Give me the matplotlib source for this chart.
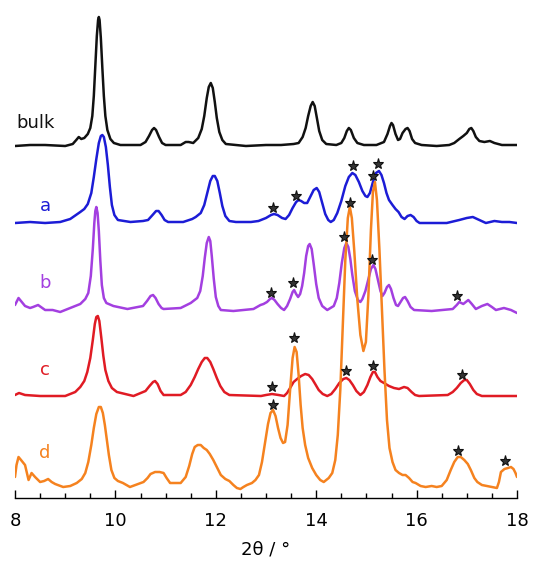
import numpy as np
import matplotlib
matplotlib.use('Agg')
import matplotlib.pyplot as plt

# traced patterns: (2theta, intensity above own baseline), arbitrary units
bulk = [(8.0, 0), (8.3, 1), (8.6, 1), (9.0, 0), (9.15, 2), (9.22, 6), (9.27, 9), (9.32, 7),
        (9.38, 8), (9.45, 12), (9.50, 18), (9.54, 30), (9.57, 50), (9.60, 80), (9.63, 110),
        (9.655, 126), (9.67, 129), (9.685, 126), (9.71, 108), (9.74, 78), (9.77, 50), (9.80, 30),
        (9.84, 16), (9.90, 7), (9.97, 3), (10.1, 1), (10.5, 1), (10.6, 4), (10.67, 10),
        (10.73, 16), (10.77, 18), (10.81, 16), (10.87, 9), (10.93, 3), (11.0, 1), (11.3, 1),
        (11.40, 4), (11.46, 4), (11.55, 3), (11.65, 8), (11.72, 17), (11.77, 30), (11.82, 48),
        (11.86, 59), (11.90, 63), (11.94, 58), (11.98, 44), (12.02, 28), (12.07, 14), (12.13, 6),
        (12.2, 2), (12.6, 0), (13.0, 1), (13.3, 1), (13.55, 2), (13.65, 3), (13.73, 9),
        (13.79, 18), (13.84, 30), (13.89, 40), (13.93, 44), (13.97, 40), (14.01, 29), (14.06, 15),
        (14.12, 6), (14.2, 2), (14.4, 1), (14.5, 3), (14.56, 8), (14.61, 15), (14.65, 18),
        (14.69, 16), (14.75, 8), (14.82, 3), (14.95, 1), (15.2, 1), (15.35, 4), (15.42, 12),
        (15.47, 20), (15.50, 23), (15.53, 21), (15.58, 12), (15.63, 6), (15.67, 7), (15.72, 13),
        (15.78, 17), (15.82, 18), (15.86, 15), (15.91, 7), (15.97, 3), (16.1, 1), (16.4, 0),
        (16.65, 1), (16.75, 3), (16.85, 7), (16.93, 10), (17.0, 13), (17.05, 17), (17.09, 18),
        (17.13, 15), (17.18, 9), (17.25, 5), (17.35, 4), (17.46, 5), (17.55, 3), (17.7, 1),
        (17.85, 1), (18.0, 1)]

a = [(8.0, 0), (8.3, 1), (8.6, 0), (8.9, 1), (9.1, 4), (9.3, 11), (9.38, 14), (9.45, 19),
     (9.52, 30), (9.57, 46), (9.62, 64), (9.67, 80), (9.71, 87), (9.74, 88), (9.77, 86),
     (9.81, 76), (9.85, 58), (9.89, 36), (9.93, 18), (9.98, 8), (10.05, 3), (10.3, 1),
     (10.55, 2), (10.65, 3), (10.74, 8), (10.81, 12), (10.86, 12), (10.92, 8), (10.98, 3),
     (11.05, 1), (11.35, 1), (11.53, 4), (11.6, 6), (11.7, 10), (11.77, 18), (11.83, 30),
     (11.89, 42), (11.94, 47), (11.98, 47), (12.03, 42), (12.08, 30), (12.13, 17), (12.19, 7),
     (12.27, 2), (12.4, 1), (12.7, 1), (12.85, 2), (13.0, 5), (13.1, 8), (13.16, 9), (13.23, 8),
     (13.32, 5), (13.39, 4), (13.46, 8), (13.53, 15), (13.6, 21), (13.65, 23), (13.70, 22),
     (13.76, 20), (13.82, 20), (13.88, 26), (13.95, 33), (14.01, 35), (14.06, 31), (14.12, 20),
     (14.18, 9), (14.24, 3), (14.29, 1), (14.35, 3), (14.42, 10), (14.5, 22), (14.58, 37),
     (14.65, 46), (14.72, 50), (14.78, 48), (14.85, 41), (14.92, 32), (14.98, 27), (15.02, 26),
     (15.07, 30), (15.13, 41), (15.19, 50), (15.25, 52), (15.30, 48), (15.35, 40), (15.40, 30),
     (15.45, 23), (15.52, 18), (15.58, 14), (15.64, 11), (15.70, 6), (15.76, 4), (15.82, 7),
     (15.88, 8), (15.94, 6), (16.0, 2), (16.06, 0), (16.2, 0), (16.6, 0), (16.85, 3),
     (17.0, 5), (17.12, 6), (17.25, 3), (17.38, 0), (17.55, 2), (17.7, 1), (17.85, 1),
     (18.0, 0)]

b = [(8.0, 6), (8.07, 13), (8.2, 5), (8.3, 3), (8.36, 4), (8.46, 6), (8.6, 1), (8.75, 1),
     (8.9, -1), (9.1, 3), (9.3, 7), (9.40, 12), (9.46, 18), (9.51, 35), (9.55, 62), (9.58, 88),
     (9.60, 100), (9.62, 104), (9.645, 98), (9.67, 80), (9.70, 50), (9.73, 26), (9.77, 13),
     (9.82, 8), (9.96, 5), (10.24, 2), (10.45, 4), (10.55, 5), (10.63, 10), (10.70, 15),
     (10.75, 16), (10.80, 13), (10.86, 7), (10.92, 3), (10.96, 2), (11.3, 3), (11.5, 8),
     (11.63, 13), (11.69, 20), (11.74, 35), (11.78, 53), (11.82, 68), (11.86, 74), (11.89, 70),
     (11.92, 55), (11.96, 32), (12.0, 14), (12.05, 5), (12.1, 1), (12.35, 0), (12.75, 2),
     (12.89, 6), (12.95, 7), (13.02, 9), (13.08, 12), (13.12, 13), (13.17, 11), (13.23, 7),
     (13.30, 3), (13.36, 1), (13.42, 5), (13.48, 12), (13.53, 19), (13.56, 21), (13.60, 17),
     (13.64, 14), (13.68, 17), (13.72, 25), (13.76, 38), (13.80, 55), (13.84, 65), (13.87, 67),
     (13.91, 62), (13.95, 47), (14.0, 27), (14.05, 13), (14.12, 5), (14.22, 1), (14.35, 5),
     (14.41, 13), (14.46, 28), (14.51, 48), (14.56, 63), (14.60, 68), (14.64, 64), (14.68, 52),
     (14.72, 36), (14.77, 20), (14.83, 11), (14.88, 9), (14.92, 12), (14.98, 20), (15.04, 32),
     (15.09, 42), (15.14, 46), (15.18, 42), (15.23, 31), (15.28, 20), (15.32, 15), (15.36, 18),
     (15.41, 24), (15.45, 26), (15.49, 22), (15.54, 13), (15.59, 6), (15.63, 5), (15.68, 9),
     (15.73, 13), (15.77, 14), (15.82, 10), (15.88, 4), (15.95, 1), (16.3, 0), (16.72, 2),
     (16.8, 6), (16.85, 9), (16.93, 7), (16.98, 9), (17.03, 11), (17.1, 7), (17.18, 2),
     (17.30, 5), (17.41, 7), (17.5, 4), (17.58, 1), (17.74, 3), (17.88, 1), (18.0, -2)]

c = [(8.0, 1), (8.08, 3), (8.2, 1), (8.5, 0), (9.0, 0), (9.2, 4), (9.3, 9), (9.38, 15),
     (9.44, 24), (9.50, 38), (9.55, 56), (9.59, 72), (9.62, 79), (9.65, 80), (9.68, 75),
     (9.72, 58), (9.76, 40), (9.80, 26), (9.86, 15), (9.93, 8), (10.03, 4), (10.36, 0),
     (10.6, 5), (10.68, 10), (10.75, 14), (10.79, 15), (10.84, 12), (10.9, 5), (10.96, 1),
     (11.3, 1), (11.4, 4), (11.5, 11), (11.58, 19), (11.65, 27), (11.72, 34), (11.78, 38),
     (11.83, 38), (11.89, 34), (11.95, 27), (12.02, 18), (12.09, 10), (12.17, 4), (12.27, 1),
     (12.9, 0), (13.0, 1), (13.12, 2), (13.25, 1), (13.36, 0), (13.42, 3), (13.48, 8),
     (13.55, 14), (13.62, 17), (13.70, 20), (13.78, 22), (13.85, 21), (13.92, 17), (13.98, 12),
     (14.05, 6), (14.13, 2), (14.22, 0), (14.30, 2), (14.38, 7), (14.46, 13), (14.54, 17),
     (14.60, 18), (14.66, 16), (14.73, 11), (14.80, 5), (14.88, 1), (14.95, 4), (15.02, 11),
     (15.08, 19), (15.13, 24), (15.17, 24), (15.22, 19), (15.28, 15), (15.35, 13), (15.45, 10),
     (15.55, 8), (15.65, 7), (15.75, 9), (15.82, 8), (15.9, 4), (15.97, 1), (16.05, 0),
     (16.62, 1), (16.72, 4), (16.8, 8), (16.88, 13), (16.95, 16), (17.0, 16), (17.06, 12),
     (17.13, 6), (17.2, 2), (17.3, 0), (17.5, 0), (18.0, 0)]

d = [(8.0, 13), (8.03, 25), (8.07, 33), (8.12, 30), (8.2, 25), (8.27, 10), (8.33, 17),
     (8.4, 13), (8.5, 8), (8.58, 9), (8.66, 11), (8.73, 8), (8.8, 6), (8.96, 3), (9.1, 4),
     (9.23, 7), (9.33, 11), (9.40, 17), (9.46, 28), (9.52, 45), (9.57, 62), (9.62, 76),
     (9.67, 83), (9.71, 83), (9.75, 77), (9.79, 65), (9.83, 50), (9.87, 35), (9.92, 20),
     (9.98, 12), (10.05, 9), (10.15, 7), (10.29, 3), (10.45, 6), (10.56, 8), (10.64, 12),
     (10.70, 16), (10.79, 18), (10.88, 18), (10.96, 17), (11.02, 12), (11.09, 7), (11.3, 7),
     (11.4, 13), (11.47, 24), (11.53, 36), (11.58, 43), (11.64, 45), (11.70, 45), (11.76, 42),
     (11.82, 40), (11.88, 36), (11.95, 30), (12.02, 23), (12.1, 15), (12.19, 11), (12.27, 9),
     (12.35, 5), (12.42, 2), (12.49, 1), (12.55, 3), (12.62, 5), (12.72, 7), (12.79, 10),
     (12.86, 15), (12.92, 28), (12.98, 47), (13.04, 66), (13.09, 77), (13.14, 80), (13.19, 74),
     (13.24, 62), (13.29, 52), (13.34, 47), (13.38, 48), (13.43, 65), (13.48, 100),
     (13.53, 132), (13.57, 143), (13.61, 138), (13.65, 115), (13.69, 85), (13.73, 62),
     (13.78, 45), (13.84, 32), (13.92, 22), (14.0, 15), (14.08, 10), (14.15, 8), (14.25, 12),
     (14.32, 17), (14.38, 30), (14.43, 55), (14.48, 100), (14.53, 165), (14.58, 230),
     (14.63, 272), (14.67, 283), (14.71, 272), (14.76, 238), (14.82, 190), (14.88, 155),
     (14.94, 139), (14.99, 148), (15.04, 195), (15.09, 260), (15.13, 298), (15.17, 308),
     (15.21, 290), (15.26, 240), (15.31, 180), (15.36, 120), (15.41, 70), (15.46, 42),
     (15.52, 28), (15.58, 20), (15.65, 17), (15.72, 15), (15.78, 15), (15.85, 12), (15.92, 8),
     (15.98, 7), (16.08, 4), (16.18, 3), (16.3, 4), (16.4, 3), (16.5, 4), (16.6, 10),
     (16.68, 20), (16.75, 28), (16.82, 33), (16.88, 33), (16.95, 30), (17.02, 26), (17.08, 20),
     (17.15, 12), (17.21, 8), (17.3, 5), (17.4, 4), (17.51, 3), (17.6, 2), (17.64, 8),
     (17.68, 18), (17.75, 21), (17.82, 22), (17.88, 23), (17.93, 21), (17.97, 17), (18.0, 13)]

# starred reflections: (2theta, height above own baseline)
stars_a = [(13.14, 13), (13.59, 25), (14.74, 55), (15.23, 57)]
stars_b = [(13.10, 16), (13.53, 26), (14.55, 72), (15.12, 49), (16.80, 13)]
stars_c = [(13.12, 7), (14.60, 23), (15.14, 28), (16.91, 19)]
stars_d = [(13.14, 83), (13.55, 150), (14.67, 285), (15.14, 312), (16.82, 37), (17.77, 27)]

names = ['bulk', 'a', 'b', 'c', 'd']
offsets = [352, 275, 187, 102, 8]
colors = ['#111111', '#1c1cd6', '#a33fe0', '#e01b24', '#f5821f']

fig = plt.figure(figsize=(5.34, 5.61), dpi=100)
ax = fig.add_axes([15 / 534, 63 / 561, 502 / 534, 498 / 561])

series = [bulk, a, b, c, d]
star_sets = [[], stars_a, stars_b, stars_c, stars_d]
for name, data, off, col, st in zip(names, series, offsets, colors, star_sets):
    xs, ys = np.array(data).T
    ax.plot(xs, ys + off, color=col, lw=1.8, zorder=2,
            solid_joinstyle='round', solid_capstyle='round')
    if st:
        sx, sy = np.array(st).T
        ax.plot(sx, sy + off + 2, ls='none', marker='*', ms=8, color='#333333',
                markeredgecolor='#111111', markeredgewidth=0.8, zorder=5)

label_pos = [(8.02, 375), (8.6, 292), (8.6, 215), (8.6, 128), (8.6, 45)]
for name, col, (lx, ly) in zip(names, colors, label_pos):
    ax.text(lx, ly, name, color=col, fontsize=13, ha='left' if name == 'bulk' else 'center',
            va='center')

ax.set_xlim(8, 18)
ax.set_ylim(0, 498)
ax.set_xticks([8, 10, 12, 14, 16, 18])
ax.set_xticks(np.arange(8, 18.01, 0.5), minor=True)
ax.tick_params(axis='x', which='major', direction='in', length=6, width=1, labelsize=13, pad=10)
ax.tick_params(axis='x', which='minor', direction='in', length=3.5, width=1)
ax.set_yticks([])
for s in ['left', 'right', 'top']:
    ax.spines[s].set_visible(False)
ax.spines['bottom'].set_linewidth(1)
ax.set_xlabel('2θ / °', fontsize=13, labelpad=8)

fig.savefig('out.png', dpi=100)
